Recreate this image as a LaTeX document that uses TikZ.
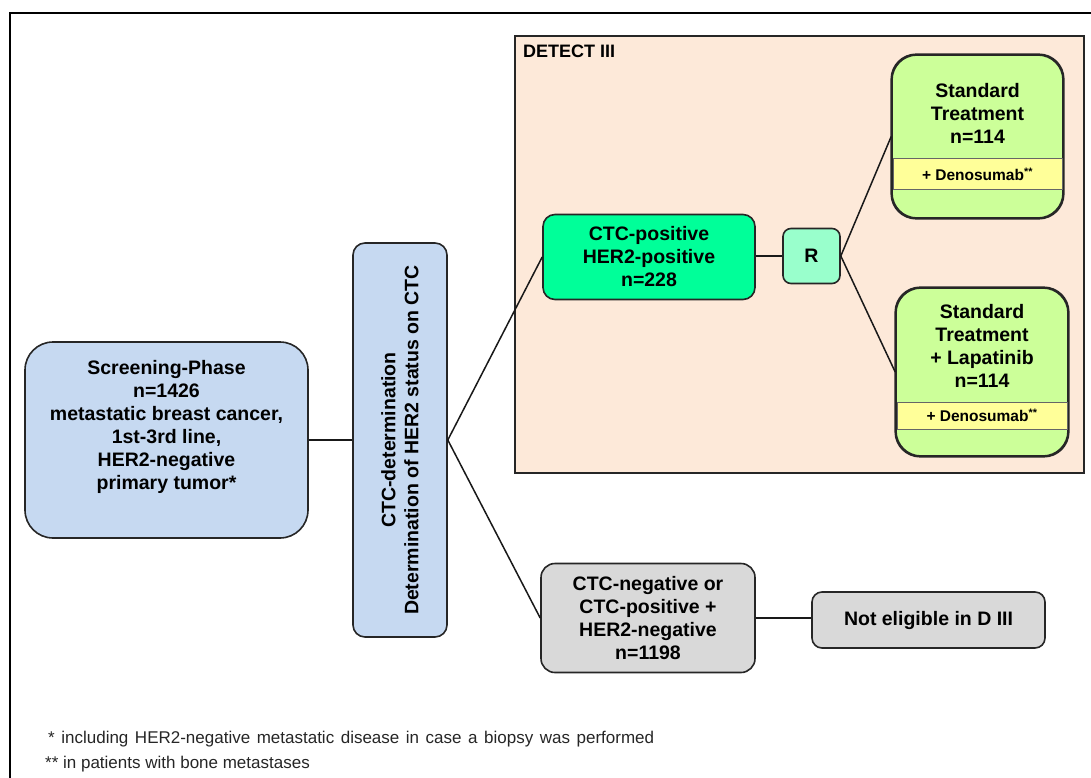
\documentclass[tikz,border=0pt]{standalone}
\usepackage{fontspec}
\setmainfont{Liberation Sans}
\definecolor{blueA}{HTML}{C6D9F1}
\definecolor{peach}{HTML}{FDE9D9}
\definecolor{greenA}{HTML}{00FF99}
\definecolor{greenR}{HTML}{99FFCC}
\definecolor{greenS}{HTML}{CCFF99}
\definecolor{yellowB}{HTML}{FFFF99}
\definecolor{grayA}{HTML}{D9D9D9}
\begin{document}
\begin{tikzpicture}[x=1pt,y=-1pt,
  box/.style={draw=black!85, line width=1.6pt, rounded corners=#1, inner sep=0pt, align=center,
    font=\bfseries\fontsize{19.5}{23}\selectfont},
  txt/.style={align=center, inner sep=0pt, font=\bfseries\fontsize{19.5}{23}\selectfont},
  band/.style={draw=black!60, line width=1pt, fill=yellowB, inner sep=0pt,
    font=\bfseries\fontsize{15.5}{17}\selectfont},
  conn/.style={draw=black!90, line width=1.5pt},
  foot/.style={anchor=base west, inner sep=0pt, text=black!85, font=\fontsize{17}{19}\selectfont}]
\useasboundingbox (0,0) rectangle (1091,778);
\fill[white] (0,0) rectangle (1091,778);
% outer frame
\draw[line width=2.6pt] (10,778) -- (10,13) -- (1091,13);
% DETECT III area
\node[draw=black!85, line width=1.6pt, fill=peach, minimum width=569pt, minimum height=437pt, inner sep=0pt] (detect) at (799.5,254.5) {};
\node[anchor=north west, inner sep=0pt, font=\bfseries\fontsize{18}{20}\selectfont] (detectlbl) at (523,45) {DETECT III};
% screening
\node[box=28pt, fill=blueA, minimum width=283pt, minimum height=196pt] (scr) at (166.5,440) {};
\node[txt] (scrt) at (166.5,427) {Screening-Phase\\n=1426\\metastatic breast cancer,\\1st-3rd line,\\HER2-negative\\primary tumor*};
% vertical box
\node[box=12pt, fill=blueA, minimum width=94pt, minimum height=394pt] (vbox) at (400,440) {};
\node[txt, rotate=90] (vboxt) at (400,440) {CTC-determination\\Determination of HER2 status on CTC};
% CTC positive
\node[box=12pt, fill=greenA, minimum width=212pt, minimum height=85pt] (ctcpos) at (649,257) {CTC-positive\\HER2-positive\\n=228};
% R
\node[box=8pt, fill=greenR, minimum width=57pt, minimum height=55pt] (rand) at (811.5,256) {R};
% standard treatment 1
\node[box=25pt, fill=greenS, minimum width=171pt, minimum height=163pt] (st1) at (977.5,136.5) {};
\node[band, minimum width=169pt, minimum height=30pt] (band1) at (977.5,174) {+ Denosumab\textsuperscript{**}};
\draw[draw=black!85, line width=1.6pt, rounded corners=25pt] (st1.south west) rectangle (st1.north east);
\node[txt] (st1t) at (977.5,113) {Standard\\Treatment\\n=114};
% standard treatment 2
\node[box=25pt, fill=greenS, minimum width=172pt, minimum height=168pt] (st2) at (982,372) {};
\node[band, minimum width=170pt, minimum height=27pt] (band2) at (982,415.5) {+ Denosumab\textsuperscript{**}};
\draw[draw=black!85, line width=1.6pt, rounded corners=25pt] (st2.south west) rectangle (st2.north east);
\node[txt] (st2t) at (982,346) {Standard\\Treatment\\+ Lapatinib\\n=114};
% CTC negative
\node[box=14pt, fill=grayA, minimum width=214pt, minimum height=109pt] (ctcneg) at (648,618) {CTC-negative or\\CTC-positive +\\HER2-negative\\n=1198};
% not eligible
\node[box=10pt, fill=grayA, minimum width=233pt, minimum height=56pt] (noteli) at (928.5,620) {Not eligible in D III};
% connectors
\draw[conn] (scr.east) -- (scr.east -| vbox.west);
\draw[conn] (vbox.east) -- (ctcpos.west);
\draw[conn] (vbox.east) -- (ctcneg.west);
\draw[conn] (rand.west -| ctcpos.east) -- (rand.west);
\draw[conn] (rand.east) -- (st1.west);
\draw[conn] (rand.east) -- (st2.west);
\draw[conn] (ctcneg.east) -- (ctcneg.east -| noteli.west);
% footnotes
\node[foot] (fn1) at (48,743) {\makebox[606pt][s]{* including HER2-negative metastatic disease in case a biopsy was performed}};
\node[foot] (fn2) at (45,768) {** in patients with bone metastases};
\end{tikzpicture}
\end{document}
